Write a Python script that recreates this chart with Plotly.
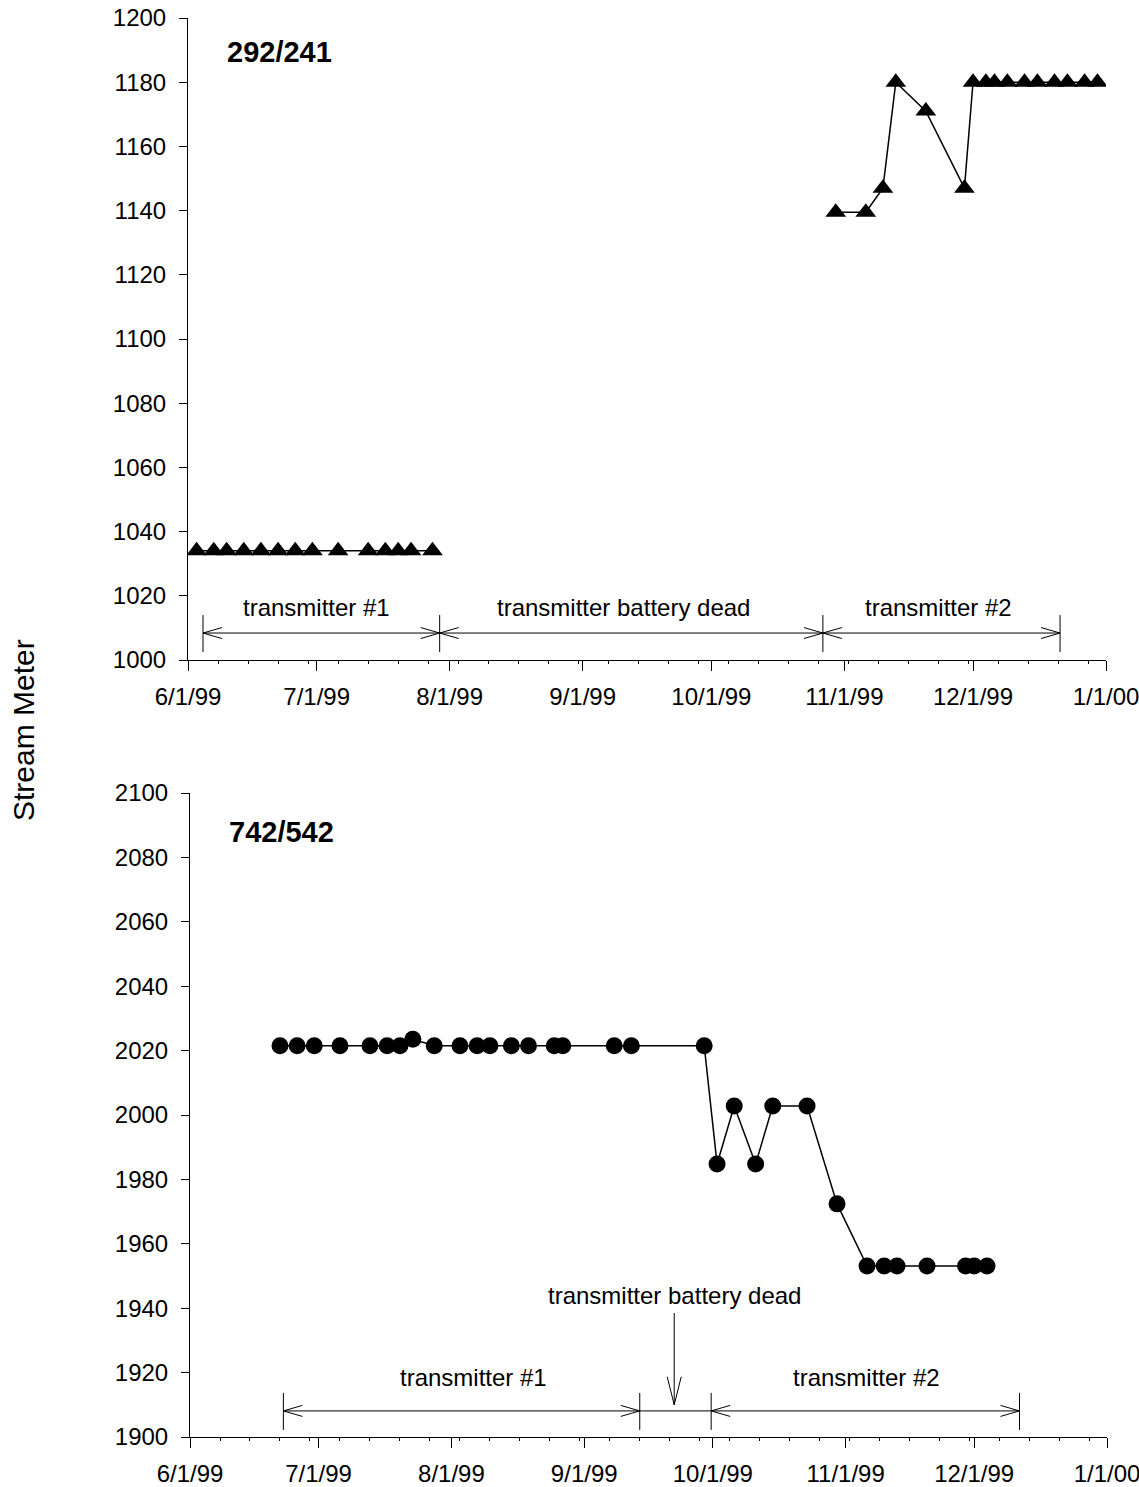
import pandas as pd
import plotly.graph_objects as go

FONT = "Liberation Sans, Arial, sans-serif"
W, H = 1139, 1487

# ---------------- data ----------------
# Top panel (292/241) - triangles
top_dates_a = ['1999-06-03', '1999-06-07', '1999-06-10', '1999-06-14', '1999-06-18',
               '1999-06-22', '1999-06-26', '1999-06-30', '1999-07-06', '1999-07-13',
               '1999-07-17', '1999-07-20', '1999-07-23', '1999-07-28']
top_vals_a = [1034, 1034, 1034, 1034, 1034, 1034, 1034, 1034, 1034, 1034,
              1034, 1034, 1034, 1034]
top_dates_b = ['1999-10-30', '1999-11-06', '1999-11-10', '1999-11-13', '1999-11-20',
               '1999-11-29', '1999-12-01', '1999-12-04', '1999-12-06', '1999-12-09',
               '1999-12-13', '1999-12-16', '1999-12-20', '1999-12-23', '1999-12-27',
               '1999-12-30']
top_vals_b = [1139.5, 1139.5, 1147, 1180, 1171, 1147, 1180, 1180, 1180, 1180,
              1180, 1180, 1180, 1180, 1180, 1180]

# Bottom panel (742/542) - circles
bot_dates = ['1999-06-22', '1999-06-26', '1999-06-30', '1999-07-06', '1999-07-13',
             '1999-07-17', '1999-07-20', '1999-07-23', '1999-07-28', '1999-08-03',
             '1999-08-07', '1999-08-10', '1999-08-15', '1999-08-19', '1999-08-25',
             '1999-08-27', '1999-09-08', '1999-09-12', '1999-09-29', '1999-10-02',
             '1999-10-06', '1999-10-11', '1999-10-15', '1999-10-23', '1999-10-30',
             '1999-11-06', '1999-11-10', '1999-11-13', '1999-11-20', '1999-11-29',
             '1999-12-01', '1999-12-04']
bot_vals = [2021.5, 2021.5, 2021.5, 2021.5, 2021.5, 2021.5, 2021.5, 2023.5, 2021.5, 2021.5,
            2021.5, 2021.5, 2021.5, 2021.5, 2021.5, 2021.5, 2021.5, 2021.5, 2021.5, 1984.8,
            2002.8, 1984.8, 2002.8, 2002.8, 1972.4, 1953.1, 1953.1, 1953.1, 1953.1, 1953.1,
            1953.1, 1953.1]

# Axis ticks
month_ticks = ['1999-06-01', '1999-07-01', '1999-08-01', '1999-09-01', '1999-10-01',
               '1999-11-01', '1999-12-01', '2000-01-01']
month_labels = ['6/1/99', '7/1/99', '8/1/99', '9/1/99', '10/1/99', '11/1/99', '12/1/99', '1/1/00']
top_yticks = list(range(1000, 1201, 20))
bot_yticks = list(range(1900, 2101, 20))

# Period annotations (top)
top_bounds = ['1999-06-04 12:00', '1999-07-29 16:00', '1999-10-27 00:00', '1999-12-21 07:00']
top_seg_heads = [True, True, True]
top_labels = ['transmitter #1', 'transmitter battery dead', 'transmitter #2']
top_label_x = ['1999-07-01 00:00', '1999-09-10 14:00', '1999-11-23 00:00']
top_label_y = 1016.2
top_arrow_y = 1008.4
top_bar_lo, top_bar_hi = 1002.5, 1014.0

# Period annotations (bottom)
bot_bounds = ['1999-06-22 19:00', '1999-09-13 23:00', '1999-09-30 15:00', '1999-12-11 14:00']
bot_seg_heads = [True, False, True]
bot_labels = ['transmitter #1', 'transmitter #2']
bot_label_x = ['1999-08-06 02:00', '1999-11-05 19:00']
bot_label_y = 1918.6
bot_arrow_y = 1908.1
bot_bar_lo, bot_bar_hi = 1902.2, 1913.7
dead_label = 'transmitter battery dead'
dead_x = '1999-09-22'
dead_label_y = 1944.1
dead_arrow_from, dead_arrow_to = 1938.5, 1910.0

panel_titles = ['292/241', '742/542']
panel_title_x = ['1999-06-22 10:00', '1999-06-22 10:00']
panel_title_y = [1189.4, 2087.9]

x_range = ['1999-06-01', '2000-01-01']

# ---------------- layout geometry (pixels) ----------------
top_px = dict(x0=188, x1=1106, y0=18, y1=660)
bot_px = dict(x0=190, x1=1107, y0=793, y1=1437)


def dom(p):
    return ([p['x0'] / W, p['x1'] / W], [1 - p['y1'] / H, 1 - p['y0'] / H])


top_xd, top_yd = dom(top_px)
bot_xd, bot_yd = dom(bot_px)

n_days = (pd.Timestamp(x_range[1]) - pd.Timestamp(x_range[0])).days


def scale(p, yr):
    day_per_px = n_days / (p['x1'] - p['x0'])
    val_per_px = (yr[1] - yr[0]) / (p['y1'] - p['y0'])
    return day_per_px, val_per_px


def span_lines(bounds, heads, y, lo, hi, p, yr):
    dpp, vpp = scale(p, yr)
    L = pd.Timedelta(days=19 * dpp)
    h = 5.5 * vpp
    xs, ys = [], []
    b = [pd.Timestamp(v) for v in bounds]
    for v in b:
        xs += [v, v, None]
        ys += [lo, hi, None]
    for i in range(len(b) - 1):
        a, c = b[i], b[i + 1]
        xs += [a, c, None]
        ys += [y, y, None]
        if heads[i]:
            xs += [a + L, a, a + L, None, c - L, c, c - L, None]
            ys += [y + h, y, y - h, None, y + h, y, y - h, None]
    return xs, ys


fig = go.Figure()

line_style = dict(color='black', width=1.5)

# Top series
fig.add_trace(go.Scatter(
    x=top_dates_a + [None] + top_dates_b,
    y=top_vals_a + [None] + top_vals_b,
    mode='lines+markers', line=line_style, connectgaps=False,
    marker=dict(symbol='triangle-up', size=18, color='black', line=dict(width=0)),
    xaxis='x', yaxis='y', showlegend=False, hoverinfo='x+y'))

# Bottom series
fig.add_trace(go.Scatter(
    x=bot_dates, y=bot_vals,
    mode='lines+markers', line=line_style,
    marker=dict(symbol='circle', size=17, color='black', line=dict(width=0)),
    xaxis='x2', yaxis='y2', showlegend=False, hoverinfo='x+y'))

# Period arrows
tx, ty = span_lines(top_bounds, top_seg_heads, top_arrow_y, top_bar_lo, top_bar_hi,
                    top_px, [1000, 1200])
fig.add_trace(go.Scatter(x=tx, y=ty, mode='lines', line=dict(color='black', width=1),
                         xaxis='x', yaxis='y', showlegend=False, hoverinfo='skip'))
bx, by = span_lines(bot_bounds, bot_seg_heads, bot_arrow_y, bot_bar_lo, bot_bar_hi,
                    bot_px, [1900, 2100])
# down arrow
dpp, vpp = scale(bot_px, [1900, 2100])
dx = pd.Timestamp(dead_x)
w = pd.Timedelta(days=7 * dpp)
Lv = 28 * vpp
bx += [dx, dx, None, dx - w, dx, dx + w, None]
by += [dead_arrow_from, dead_arrow_to, None, dead_arrow_to + Lv, dead_arrow_to, dead_arrow_to + Lv, None]
fig.add_trace(go.Scatter(x=bx, y=by, mode='lines', line=dict(color='black', width=1),
                         xaxis='x2', yaxis='y2', showlegend=False, hoverinfo='skip'))

ann = []
for t, x in zip(top_labels, top_label_x):
    ann.append(dict(text=t, x=x, y=top_label_y, xref='x', yref='y', showarrow=False,
                    font=dict(size=24, family=FONT, color='black')))
for t, x in zip(bot_labels, bot_label_x):
    ann.append(dict(text=t, x=x, y=bot_label_y, xref='x2', yref='y2', showarrow=False,
                    font=dict(size=24, family=FONT, color='black')))
ann.append(dict(text=dead_label, x=dead_x, y=dead_label_y, xref='x2', yref='y2',
                showarrow=False, font=dict(size=24, family=FONT, color='black')))
for i, (t, x, y) in enumerate(zip(panel_titles, panel_title_x, panel_title_y)):
    ann.append(dict(text='<b>%s</b>' % t, x=x, y=y, xref='x' if i == 0 else 'x2',
                    yref='y' if i == 0 else 'y2', showarrow=False,
                    font=dict(size=29, family=FONT, color='black')))
ann.append(dict(text='Stream Meter', x=23 / W, y=1 - 730 / H, xref='paper', yref='paper',
                xanchor='center', yanchor='middle',
                textangle=-90, showarrow=False,
                font=dict(size=30, family=FONT, color='black')))

xaxis_common = dict(
    type='date', range=x_range, tickmode='array', tickvals=month_ticks, ticktext=month_labels,
    showline=True, linecolor='black', linewidth=1, ticks='outside', ticklen=10,
    tickcolor='black', tickwidth=1, showgrid=False, zeroline=False, automargin=False,
    tickfont=dict(size=24, family=FONT, color='black'), ticklabelstandoff=5,
    ticklabeloverflow='allow',
    minor=dict(tick0='1999-06-01', dtick=7 * 86400000, ticks='outside', ticklen=3,
               tickcolor='black', tickwidth=1, showgrid=False),
)
yaxis_common = dict(
    tickmode='array', showline=True, linecolor='black', linewidth=1, ticks='outside',
    ticklen=8, tickcolor='black', tickwidth=1, showgrid=False, zeroline=False,
    automargin=False,
    tickfont=dict(size=24, family=FONT, color='black'), ticklabelstandoff=8,
)

fig.update_layout(
    template='none',
    width=W, height=H, margin=dict(l=0, r=0, t=0, b=0, autoexpand=False),
    paper_bgcolor='white', plot_bgcolor='white', showlegend=False,
    font=dict(family=FONT, color='black'),
    xaxis=dict(domain=top_xd, anchor='y', **xaxis_common),
    yaxis=dict(domain=top_yd, anchor='x', range=[1000, 1200], tickvals=top_yticks,
               **yaxis_common),
    xaxis2=dict(domain=bot_xd, anchor='y2', **xaxis_common),
    yaxis2=dict(domain=bot_yd, anchor='x2', range=[1900, 2100], tickvals=bot_yticks,
                **yaxis_common),
    annotations=ann,
)

fig.write_html('out.html')
